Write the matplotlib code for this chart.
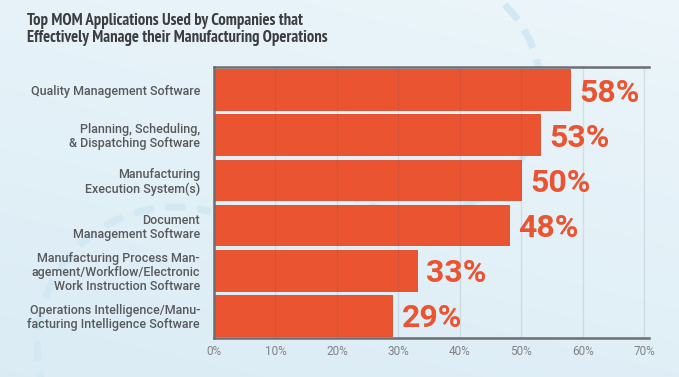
import numpy as np
import matplotlib.pyplot as plt
from matplotlib.patches import Arc

plt.rcParams['font.family'] = ['Roboto', 'Liberation Sans', 'DejaVu Sans']

categories = [
    "Quality Management Software",
    "Planning, Scheduling,\n& Dispatching Software",
    "Manufacturing\nExecution System(s)",
    "Document\nManagement Software",
    "Manufacturing Process Man-\nagement/Workflow/Electronic\nWork Instruction Software",
    "Operations Intelligence/Manu-\nfacturing Intelligence Software",
]
values = [58, 53, 50, 48, 33, 29]
ticks = [0, 10, 20, 30, 40, 50, 60, 70]
title = ("Top MOM Applications Used by Companies that\n"
         "Effectively Manage their Manufacturing Operations")

bar_color = '#EB5430'
dash_color = '#D2E8F3'
narrow = ['PT Sans Narrow', 'Roboto Condensed', 'DejaVu Sans']
W, H = 679, 377

fig = plt.figure(figsize=(W / 100, H / 100), dpi=100)

# background: soft gradient + dashed decorative arcs
bg = fig.add_axes([0, 0, 1, 1], zorder=0)
bg.set_xlim(0, W)
bg.set_ylim(H, 0)
bg.axis('off')
yy, xx = np.mgrid[0:1:200j, 0:1:200j]
t = 0.7 * yy + 0.3 * (1 - xx)
c_top = np.array([0.925, 0.963, 0.982])
c_bot = np.array([0.858, 0.925, 0.960])
img = c_top + (c_bot - c_top) * t[..., None]
bg.imshow(img, extent=[0, W, H, 0], aspect='auto', interpolation='bilinear')
bg.add_patch(Arc((418, 92), 246, 246, theta1=-75, theta2=130,
                 color=dash_color, lw=5, ls=(0, (2.9, 1.7))))
bg.add_patch(Arc((175, 345), 276, 276, theta1=160, theta2=285,
                 color=dash_color, lw=5, ls=(0, (2.9, 1.7))))

ax = fig.add_axes([214 / W, 1 - 338 / H, 435 / W, 271 / H], zorder=1)
ax.set_facecolor('none')

y = np.arange(len(categories))
ax.barh(y, values, height=0.9, color=bar_color, edgecolor='#DE4828',
        linewidth=0.6, zorder=2)
for t in ticks[1:]:
    ax.axvline(t, color='#4d5966', alpha=0.13, lw=1, zorder=3)

for i, v in enumerate(values):
    ax.text(v + 1.5, i, f"{v}%", va='center_baseline', ha='left', fontsize=23,
            fontweight='bold', color=bar_color, zorder=4)

ax.set_xlim(0, 70.8)
ax.set_ylim(len(categories) - 0.5, -0.5)
ax.set_xticks(ticks)
ax.set_xticklabels([f"{t}%" for t in ticks])
ax.set_yticks(y)
ax.set_yticklabels(categories, linespacing=1.1, fontweight='medium')

for s in ['left', 'top', 'bottom']:
    ax.spines[s].set_color('#6d6e71')
    ax.spines[s].set_linewidth(1.8)
ax.spines['right'].set_visible(False)

ax.tick_params(axis='both', length=0)
ax.tick_params(axis='x', pad=5, labelsize=8.5, labelcolor='#808285')
ax.tick_params(axis='y', pad=10, labelsize=9, labelcolor='#58595b')

fig.text(27 / W, 1 - 13 / H, title, fontsize=12, fontweight='bold',
         color='#3c3d3f', va='top', linespacing=1.12, family=narrow)

fig.savefig('out.png', dpi=100)
